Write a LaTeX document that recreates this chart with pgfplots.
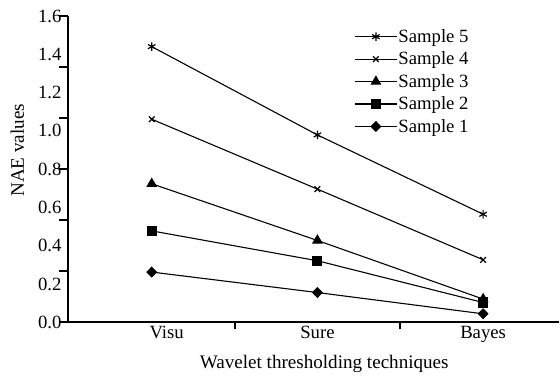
\documentclass[border=0pt]{standalone}
\usepackage{pgfplots}
\pgfplotsset{compat=1.18}
\usepackage{fontspec}
\setmainfont{Liberation Serif}
\begin{document}
\begin{tikzpicture}
\begin{axis}[
  scale only axis,
  width=492bp, height=307bp,
  xmin=-0.506, xmax=2.458,
  ymin=0, ymax=1.6,
  axis lines=left,
  axis line style={-, line width=2bp},
  tick align=outside,
  xtick={0.09,1,2},
  xticklabels={Visu,Sure,Bayes},
  ytick={0,0.2,0.4,0.6,0.8,1.0,1.2,1.4,1.6},
  major tick length=0pt,
  extra x ticks={0.5,1.5},
  extra x tick labels={},
  extra x tick style={major tick length=7bp, tick style={line width=2bp, black}},
  extra y ticks={0,0.266667,0.533333,0.8,1.066667,1.333333,1.6},
  extra y tick labels={},
  extra y tick style={major tick length=9bp, tick style={line width=2bp, black}},
  /pgf/number format/assume math mode=true,
  yticklabel style={/pgf/number format/fixed, /pgf/number format/fixed zerofill, /pgf/number format/precision=1, xshift=-3bp},
  ticklabel style={font=\fontsize{18.8}{20}\selectfont},
  xlabel={Wavelet thresholding techniques},
  ylabel={NAE values},
  label style={font=\fontsize{19.2}{20}\selectfont},
  xlabel style={at={(ticklabel cs:0.522)}, anchor=north, yshift=1bp},
  ylabel style={at={(ticklabel cs:0.562)}, yshift=-2bp},
  legend style={draw=none, fill=none, at={(rel axis cs:0.583,0.96)}, anchor=north west,
    font=\fontsize{18.8}{20}\selectfont, row sep=6bp, inner sep=0pt,
    nodes={inner sep=1bp},
    /tikz/every even column/.style={column sep=0bp}},
  legend cell align=left,
  legend image code/.code={\draw[mark repeat=2,mark phase=2] plot coordinates {(0bp,0bp) (21bp,0bp) (42bp,0bp)};},
]
\coordinate (ll) at (rel axis cs:0,0);
\coordinate (ur) at (rel axis cs:1,1);
\addplot[black, line width=1.1bp, mark=asterisk, mark size=4.3bp, mark options={solid, line width=1.2bp}] coordinates {(0,1.44) (1,0.979) (2,0.565)};
\addlegendentry{Sample 5}
\addplot[black, line width=1.1bp, mark=x, mark size=4bp, mark options={solid, line width=1.2bp}] coordinates {(0,1.061) (1,0.696) (2,0.327)};
\addlegendentry{Sample 4}
\addplot[black, line width=1.1bp, mark=triangle*, mark size=5.2bp, mark options={solid, fill=black}] coordinates {(0,0.724) (1,0.428) (2,0.122)};
\addlegendentry{Sample 3}
\addplot[black, line width=1.1bp, mark=square*, mark size=4.5bp, mark options={solid, fill=black}] coordinates {(0,0.478) (1,0.322) (2,0.104)};
\addlegendentry{Sample 2}
\addplot[black, line width=1.1bp, mark=diamond*, mark size=4.8bp, mark options={solid, fill=black, xscale=1.3}] coordinates {(0,0.263) (1,0.156) (2,0.045)};
\addlegendentry{Sample 1}
\end{axis}
\path[use as bounding box] ([xshift=-68bp,yshift=-48bp]ll) rectangle ([yshift=16bp]ur);
\end{tikzpicture}
\end{document}
